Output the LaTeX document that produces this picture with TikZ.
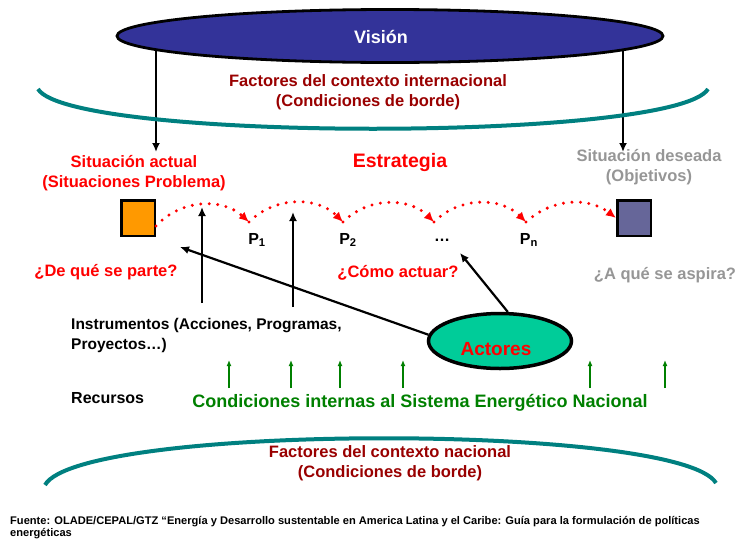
\documentclass[tikz,border=0pt]{standalone}
\usepackage{fontspec}
\setmainfont{Liberation Sans}
\usetikzlibrary{arrows.meta,shapes.geometric}
\definecolor{visblue}{RGB}{51,51,153}
\definecolor{bordeteal}{RGB}{0,128,128}
\definecolor{ctxred}{RGB}{153,0,0}
\definecolor{actgreen}{RGB}{0,204,153}
\definecolor{recgreen}{RGB}{0,128,0}
\definecolor{sqorange}{RGB}{255,153,0}
\definecolor{sqpurple}{RGB}{102,102,153}
\definecolor{metagray}{RGB}{150,150,150}
\def\fsz#1#2{\fontsize{#1}{#2}\selectfont\bfseries}

\begin{document}
\begin{tikzpicture}[x=1pt,y=-1pt,
	txt/.style={inner sep=0pt,align=center},
	flecha/.style={line width=2.2pt,-{Latex[length=9pt,width=8pt]}},
	salto/.style={red,line width=3.3pt,line cap=round,dash pattern=on 0pt off 8.5pt,-{Latex[length=10pt,width=9pt]}},
	recurso/.style={recgreen,line width=1.4pt,-{Latex[length=6pt,width=5pt]}},
	arco/.style={bordeteal,line width=4pt},
	cuadro/.style={draw=black,line width=2.5pt,minimum width=33.5pt,minimum height=35.5pt,inner sep=0pt}]
		%%%%% START %%%%%
		\useasboundingbox (0,0) rectangle (739,541);
		
		% vision y sus flechas
		\coordinate (visL) at (156,50);
		\coordinate (visLend) at (156,152);
		\coordinate (visR) at (623,50);
		\coordinate (visRend) at (623,152);
		\draw[flecha] (visL) -- (visLend);
		\draw[flecha] (visR) -- (visRend);
		\node[ellipse,draw=black,line width=2.8pt,fill=visblue,minimum width=546pt,minimum height=53pt] (vision) at (390,36) {};
		\node[txt,white,font=\fsz{18}{20}] (vistxt) at (381,37) {Visión};
		
		\draw[arco] (38,89) .. controls (70,142) and (676,142) .. (708,89);
		\node[txt,ctxred,font=\fsz{16.5}{20}] (ctxint) at (368,92) {Factores del contexto internacional\\(Condiciones de borde)};
		
		% situaciones y estrategia
		\node[txt,red,font=\fsz{16.5}{20}] (sitact) at (134,173) {Situación actual\\(Situaciones Problema)};
		\node[txt,red,font=\fsz{19.5}{22}] (estrat) at (400,162) {Estrategia};
		\node[txt,metagray,font=\fsz{16.5}{20}] (sitdes) at (649,167) {Situación deseada\\(Objetivos)};
		
		\node[cuadro,fill=sqorange] (actual) at (138,218) {};
		\node[cuadro,fill=sqpurple] (deseada) at (634,218) {};
		
		\coordinate (k0) at (156,226);
		\coordinate (k1) at (249,222);
		\coordinate (k2) at (343,222);
		\coordinate (k3) at (434,222);
		\coordinate (k4) at (526,222);
		\foreach \a/\b in {k0/k1,k1/k2,k2/k3,k3/k4}
			\draw[salto] (\a) to[bend left=45] (\b);
		\draw[salto] (k4) to[bend left=40] (deseada.west);
		
		\node[txt,font=\fsz{16}{18}] (p1) at (257,240) {P\textsubscript{1}};
		\node[txt,font=\fsz{16}{18}] (p2) at (348,240) {P\textsubscript{2}};
		\node[txt,font=\fsz{16}{18}] (pdots) at (442,240) {…};
		\node[txt,font=\fsz{16}{18}] (pn) at (529,240) {P\textsubscript{n}};
		
		\node[txt,red,font=\fsz{16.5}{20}] (qparte) at (106,272) {¿De qué se parte?};
		\node[txt,red,font=\fsz{16.5}{20}] (qactuar) at (398,273) {¿Cómo actuar?};
		\node[txt,metagray,font=\fsz{16.5}{20}] (qaspira) at (665,275) {¿A qué se aspira?};
		
		% instrumentos
		\coordinate (i1) at (202,303);
		\coordinate (i1t) at (202,207);
		\coordinate (i2) at (293,307);
		\coordinate (i2t) at (293,212);
		\draw[flecha] (i1) -- (i1t);
		\draw[flecha] (i2) -- (i2t);
		
		% actores
		\coordinate (apunte1) at (180,247);
		\coordinate (apunte2) at (460,253);
		\node[ellipse,draw=black,line width=3.5pt,fill=actgreen,minimum width=143pt,minimum height=55pt] (actores) at (500,341) {};
		\node[txt,red,font=\fsz{19}{22}] (actlbl) at (496,349) {Actores};
		\draw[flecha] (actores.175) -- (apunte1);
		\draw[flecha] (actores.75) -- (apunte2);
		
		\node[txt,align=left,anchor=west,font=\fsz{15.5}{20}] (instr) at (71,335) {Instrumentos (Acciones, Programas,\\Proyectos…)};
		\node[txt,anchor=west,font=\fsz{16}{20}] (recursos) at (71,398) {Recursos};
		\node[txt,recgreen,font=\fsz{18}{20}] (condint) at (420,403) {Condiciones internas al Sistema Energético Nacional};
		\foreach \x in {229,291,340,403,590,665}
			\draw[recurso] (\x,388) -- (\x,360);
		
		% contexto nacional
		\draw[arco] (45,485) .. controls (80,423) and (680,423) .. (716,483);
		\node[txt,ctxred,font=\fsz{16.5}{20}] (ctxnac) at (390,463) {Factores del contexto nacional\\(Condiciones de borde)};
		
		\node[txt,anchor=north west,align=left,font=\fsz{11.1}{12}] (fuente) at (10,516) {Fuente: OLADE/CEPAL/GTZ “Energía y Desarrollo sustentable en America Latina y el Caribe: Guía para la formulación de políticas\\energéticas};
		%%%%% END %%%%%
\end{tikzpicture}
\end{document}
